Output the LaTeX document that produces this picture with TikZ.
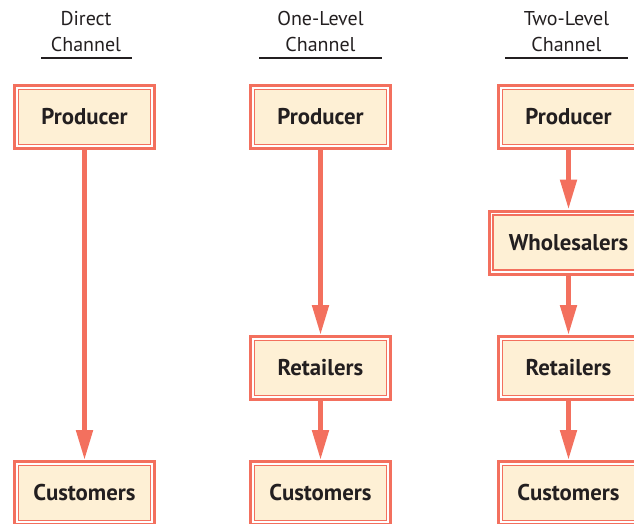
\documentclass[tikz,border=0pt]{standalone}
\usepackage{fontspec}
\setmainfont{PT Sans}
\usetikzlibrary{arrows.meta}
\definecolor{coral}{RGB}{243,112,94}
\definecolor{cream}{RGB}{254,240,213}
\definecolor{ink}{RGB}{35,31,32}
\begin{document}
\begin{tikzpicture}[x=1pt,y=-1pt,
 box/.style={draw=coral, line width=3pt, fill=white, minimum height=63pt, minimum width=140pt, inner sep=0pt,
  font=\fontsize{22.8}{26}\selectfont\bfseries, text=ink,
  path picture={\draw[coral, line width=1.2pt, fill=cream]
   ([shift={(4pt,-4pt)}]path picture bounding box.north west) rectangle
   ([shift={(-4pt,4pt)}]path picture bounding box.south east);}},
 arr/.style={draw=coral, line width=5pt, -{Triangle[length=30pt,width=16pt]}},
 title/.style={font=\fontsize{20}{26}\selectfont, text=ink, align=center, inner sep=0pt},
 rulest/.style={draw=ink, line width=2.5pt}]
\path[use as bounding box, clip] (0,0) rectangle (634,523);
% titles
\node[title, anchor=south] (t1) at (86,52) {Direct\\Channel};
\node[title, anchor=south] (t2) at (320.5,52) {One-Level\\Channel};
\node[title, anchor=south] (t3) at (566.5,52) {Two-Level\\Channel};
\draw[rulest] (41,58) -- (132,58);
\draw[rulest] (259,58) -- (382,58);
\draw[rulest] (505,58) -- (628,58);
% boxes
\node[box] (p1) at (84.5,117) {Producer};
\node[box] (c1) at (84.5,493) {Customers};
\node[box] (p2) at (320.5,117) {Producer};
\node[box] (r2) at (320.5,368) {Retailers};
\node[box] (c2) at (320.5,493) {Customers};
\node[box] (p3) at (568.5,117) {Producer};
\node[box, minimum width=159pt] (w3) at (568.5,242.5) {Wholesalers};
\node[box] (r3) at (568.5,368) {Retailers};
\node[box] (c3) at (568.5,493) {Customers};
% arrows
\draw[arr] (p1.south) -- (c1.north);
\draw[arr] (p2.south) -- (r2.north);
\draw[arr] (r2.south) -- (c2.north);
\draw[arr] (p3.south) -- (w3.north);
\draw[arr] (w3.south) -- (r3.north);
\draw[arr] (r3.south) -- (c3.north);
\end{tikzpicture}
\end{document}
